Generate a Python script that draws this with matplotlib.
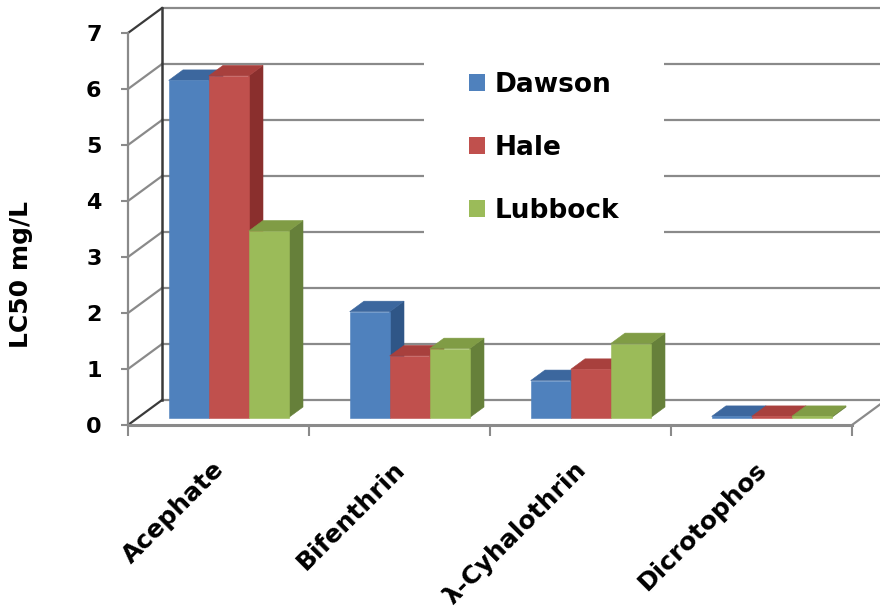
import matplotlib.pyplot as plt
from matplotlib.patches import Polygon, Patch

plt.rcParams['font.family'] = ['DejaVu Sans']

categories = ['Acephate', 'Bifenthrin', 'λ-Cyhalothrin', 'Dicrotophos']
series = ['Dawson', 'Hale', 'Lubbock']
dawson = [6.02, 1.89, 0.66, 0.02]
hale = [6.1, 1.1, 0.86, 0.02]
lubbock = [3.33, 1.23, 1.32, 0.02]
values = [dawson, hale, lubbock]
yticks = [0, 1, 2, 3, 4, 5, 6, 7]

# face / top / side colours for each series
face = ['#4F81BD', '#C0504D', '#9BBB59']
top = ['#3C679E', '#A8403D', '#809C45']
side = ['#2F5687', '#8A2F2D', '#66803A']

# oblique depth of the plot box in data units, and where the bars sit in it
DX, DY = 0.188, 0.446
F0, F1 = 0.30, 0.72
BAR_W = 0.221
GRID = '#8a8a8a'
DARK = '#3a3a3a'

fig = plt.figure(figsize=(8.8, 6.16), dpi=100)
ax = fig.add_axes([128 / 880, 191 / 616, 724 / 880, 392 / 616])
ax.set_xlim(0, 4)
ax.set_ylim(0, 7)
ax.patch.set_visible(False)

# back wall gridlines and side wall diagonals
for k in yticks:
    ax.plot([DX, 4.3], [k + DY, k + DY], color=GRID, lw=1.6, clip_on=False, zorder=1)
    c = DARK if k in (0, 7) else GRID
    ax.plot([0, DX], [k, k + DY], color=c, lw=1.6, clip_on=False, zorder=1)
ax.plot([DX, DX], [DY, 7 + DY], color=DARK, lw=1.8, clip_on=False, zorder=1)
ax.plot([4, 4 + DX], [0, DY], color=GRID, lw=1.6, clip_on=False, zorder=1)


def bar3d(x0, v, i):
    fx, fy = F0 * DX, F0 * DY
    bx, by = F1 * DX, F1 * DY
    x1 = x0 + BAR_W
    sidef = [(x1 + fx, fy), (x1 + bx, by), (x1 + bx, v + by), (x1 + fx, v + fy)]
    topf = [(x0 + fx, v + fy), (x1 + fx, v + fy), (x1 + bx, v + by), (x0 + bx, v + by)]
    front = [(x0 + fx, fy), (x1 + fx, fy), (x1 + fx, v + fy), (x0 + fx, v + fy)]
    for pts, c in ((sidef, side[i]), (topf, top[i]), (front, face[i])):
        ax.add_patch(Polygon(pts, closed=True, facecolor=c, edgecolor=c,
                             lw=0.4, clip_on=False, zorder=3))


offset = (1 - 3 * BAR_W) / 2
for j in range(len(categories)):
    for i in range(len(series)):
        bar3d(j + offset + i * BAR_W, values[i][j], i)

# axes
for s in ('top', 'right'):
    ax.spines[s].set_visible(False)
ax.spines['left'].set_color(GRID)
ax.spines['left'].set_linewidth(1.6)
ax.spines['bottom'].set_color(GRID)
ax.spines['bottom'].set_linewidth(2.2)
ax.set_yticks(yticks)
ax.set_yticklabels([str(t) for t in yticks], fontsize=16, fontweight='bold')
ax.tick_params(axis='y', length=5, width=1.5, color=GRID, pad=14)
ax.set_xticks([0, 1, 2, 3, 4])
ax.set_xticklabels([])
ax.tick_params(axis='x', length=8, width=1.5, color=GRID)

# rotated category names under each group
for j, name in enumerate(categories):
    ax.annotate(name, xy=(j + 0.5, 0), xycoords=('data', 'axes fraction'),
                xytext=(-5, -23), textcoords='offset points',
                rotation=45, rotation_mode='anchor', ha='right', va='top',
                fontsize=18, fontweight='bold')

ax.set_ylabel('LC50 mg/L', fontsize=18, fontweight='bold')
ax.yaxis.set_label_coords(-0.131, 0.385)

handles = [Patch(facecolor=face[i], edgecolor='none', label=series[i]) for i in range(3)]
leg = ax.legend(handles=handles, loc='center', bbox_to_anchor=(544 / 880, 1 - 148 / 616),
                bbox_transform=fig.transFigure, frameon=True, fancybox=False,
                facecolor='white', edgecolor='none', framealpha=1,
                prop={'size': 19, 'weight': 'bold'}, handlelength=0.62, handleheight=0.62,
                handletextpad=0.35, labelspacing=1.4, borderpad=1.7)
leg.set_zorder(2)

fig.savefig('out.png', dpi=100)
